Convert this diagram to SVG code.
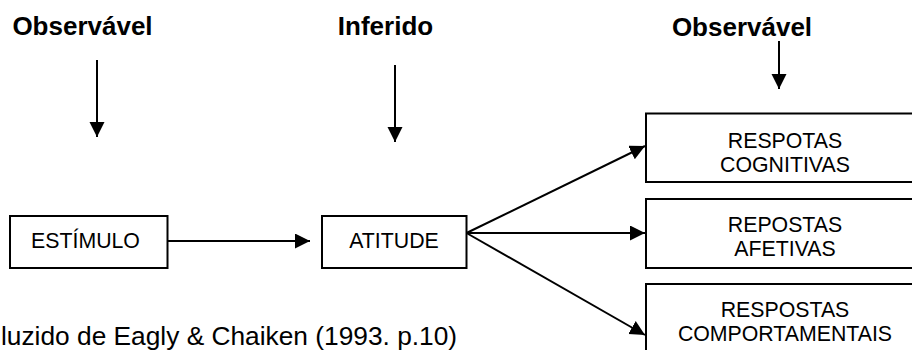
<svg xmlns="http://www.w3.org/2000/svg" width="912" height="350" viewBox="0 0 912 350">
<style>
.box{fill:#fff;stroke:#000;stroke-width:2}
.t{font-family:"Liberation Sans",Arial,sans-serif;font-size:21.3px;fill:#000;text-anchor:middle}
.h{font-family:"Liberation Sans",Arial,sans-serif;font-size:26px;font-weight:bold;fill:#000;text-anchor:middle}
.f{font-family:"Liberation Sans",Arial,sans-serif;font-size:26.3px;fill:#000}
.c{stroke:#000;stroke-width:2;fill:none;marker-end:url(#ah)}
</style>
<defs>
<marker id="ah" markerUnits="userSpaceOnUse" markerWidth="16" markerHeight="16" refX="15" refY="7.5" orient="auto">
<path d="M0,0 L15,7.5 L0,15 z" fill="#000"/>
</marker>
</defs>
<g id="label-observavel-1"><text class="h" x="82.5" y="35">Observável</text></g>
<g id="label-inferido"><text class="h" x="385.5" y="35">Inferido</text></g>
<g id="label-observavel-2"><text class="h" x="742" y="36">Observável</text></g>
<g id="estimulo"><rect class="box" x="10" y="216" width="157.5" height="52"/><text class="t" x="85.5" y="248">ESTÍMULO</text></g>
<g id="atitude"><rect class="box" x="322" y="216" width="144.5" height="52"/><text class="t" x="394" y="248">ATITUDE</text></g>
<g id="cognitivas"><rect class="box" x="646" y="113.5" width="280" height="68.5"/><text class="t" x="785" y="147.5">RESPOTAS</text><text class="t" x="785" y="171.5">COGNITIVAS</text></g>
<g id="afetivas"><rect class="box" x="646" y="199" width="280" height="69"/><text class="t" x="785" y="232">REPOSTAS</text><text class="t" x="785" y="256">AFETIVAS</text></g>
<g id="comportamentais"><rect class="box" x="646" y="284" width="280" height="80"/><text class="t" x="785" y="316.5">RESPOSTAS</text><text class="t" x="785" y="340.5">COMPORTAMENTAIS</text></g>
<g id="footnote"><text class="f" x="1" y="345">luzido de Eagly &amp; Chaiken (1993. p.10)</text></g>
<g id="connectors">
<line class="c" x1="97" y1="60" x2="97" y2="137"/>
<line class="c" x1="395" y1="65" x2="395" y2="142"/>
<line class="c" x1="779" y1="41" x2="779" y2="89"/>
<line class="c" x1="167.5" y1="241" x2="310" y2="241"/>
<line class="c" x1="466.5" y1="233" x2="645" y2="146"/>
<line class="c" x1="466.5" y1="233" x2="645" y2="233"/>
<line class="c" x1="466.5" y1="233" x2="645" y2="335"/>
</g>
</svg>
